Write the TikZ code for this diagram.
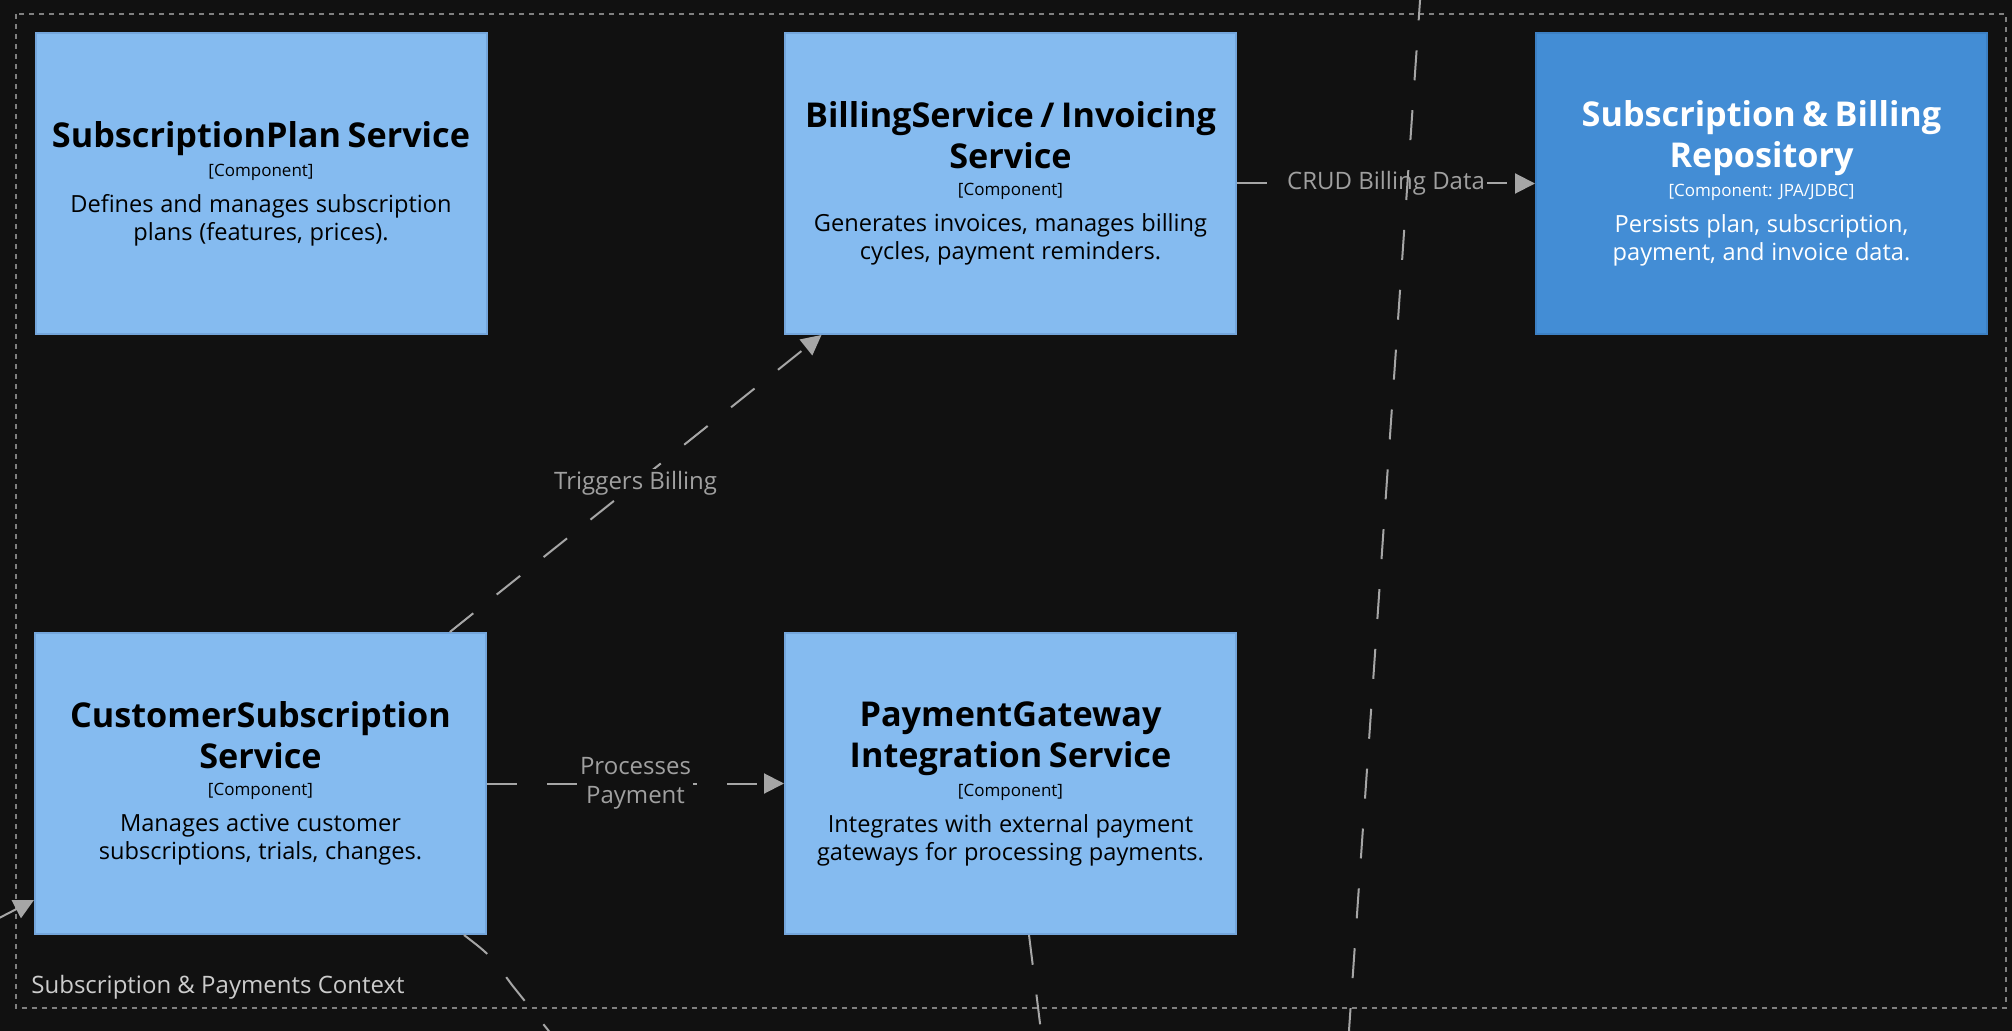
\documentclass[tikz,border=0pt]{standalone}
\usepackage{fontspec}
\setmainfont{Open Sans}
\usepackage{xcolor}
\usepackage{tikz}
\usetikzlibrary{calc}
\usetikzlibrary{arrows.meta}
\usetikzlibrary{positioning}
\frenchspacing
\definecolor{bg}{HTML}{111111}
\definecolor{compfill}{HTML}{85BBF0}
\definecolor{compborder}{HTML}{74A6DC}
\definecolor{repofill}{HTML}{438DD5}
\definecolor{repoborder}{HTML}{3C80C4}
\definecolor{relgrey}{HTML}{A6A6A6}
\definecolor{lblgrey}{HTML}{A0A0A0}
\definecolor{boundgrey}{HTML}{808080}
\definecolor{ctxgrey}{HTML}{CCCCCC}
\newcommand{\comptext}[3]{{\fontsize{17.1}{20.5}\selectfont\bfseries #1\par}\vspace{3.25pt}{\fontsize{8.5}{10}\selectfont [#2]\par}\vspace{4pt}{\fontsize{11.8}{14}\selectfont #3\par}}
\tikzset{>={Triangle[length=10pt,width=10pt]}}
\tikzstyle{comp} = [rectangle, draw=compborder, fill=compfill, line width=1pt, minimum width=225.5pt, minimum height=150.5pt, text width=222pt, align=center, inner sep=0pt, text=black]
\tikzstyle{repo} = [comp, draw=repoborder, fill=repofill, text=white]
\tikzstyle{rel} = [->, draw=relgrey, line width=1pt, dash pattern=on 15pt off 15pt]
\tikzstyle{rellbl} = [fill=bg, text=lblgrey, font=\fontsize{12}{14.5}\selectfont, inner sep=1pt, align=center]
\tikzstyle{bound} = [draw=boundgrey, line width=1pt, dash pattern=on 2.5pt off 2.5pt]

\begin{document}
\begin{tikzpicture}[x=0.5pt, y=-0.5pt]
 \useasboundingbox (0, 0) rectangle (2012, 1031);
 \fill [bg] (0, 0) rectangle (2012, 1031);
 \clip (0, 0) rectangle (2012, 1031);
 \draw [bound] (16, 14) rectangle (2006, 1008);
 \node [anchor=base west, text=ctxgrey, font=\fontsize{12}{14}\selectfont, inner sep=0pt] (ctx) at (31, 993) {Subscription \& Payments Context};
 \node [comp] (plan) at (261, 183.5) {\comptext{SubscriptionPlan Service}{Component}{Defines and manages subscription\\plans (features, prices).}};
 \node [comp] (bill) at (1010.5, 183.5) {\comptext{BillingService / Invoicing\\Service}{Component}{Generates invoices, manages billing\\cycles, payment reminders.}};
 \node [repo] (repo) at (1761.5, 183.5) {\comptext{Subscription \& Billing\\Repository}{Component: JPA/JDBC}{Persists plan, subscription,\\payment, and invoice data.}};
 \node [comp] (cust) at (260.5, 783.5) {\comptext{CustomerSubscription\\Service}{Component}{Manages active customer\\subscriptions, trials, changes.}};
 \node [comp] (pay) at (1010.5, 783.5) {\comptext{PaymentGateway\\Integration Service}{Component}{Integrates with external payment\\gateways for processing payments.}};
 \coordinate (extin) at (-115, 977);
 \coordinate (extcust) at (640, 1145);
 \coordinate (extpay) at (1062, 1200);
 \coordinate (exttop) at (1420.7, -9.5);
 \coordinate (extbot) at (1348, 1045);
 \draw [rel] (cust) -- node [rellbl] (trig) {Triggers Billing} (bill);
 \draw [rel] (cust) -- node [rellbl] (proc) {Processes\\Payment} (pay);
 \draw [rel] (bill) -- node [rellbl] (crud) {CRUD Billing Data} (repo);
 \draw [rel] (extin) -- ($(cust.south west)+(0, -35)$);
 \draw [rel, -] ($(cust.south east)+(-23, 0)$) .. controls (490, 955) .. (512, 985) -- (extcust);
 \draw [rel, -] ($(pay.south)+(18.5, 0)$) -- (extpay);
 \draw [rel, -] (exttop) -- (extbot);
\end{tikzpicture}
\end{document}
